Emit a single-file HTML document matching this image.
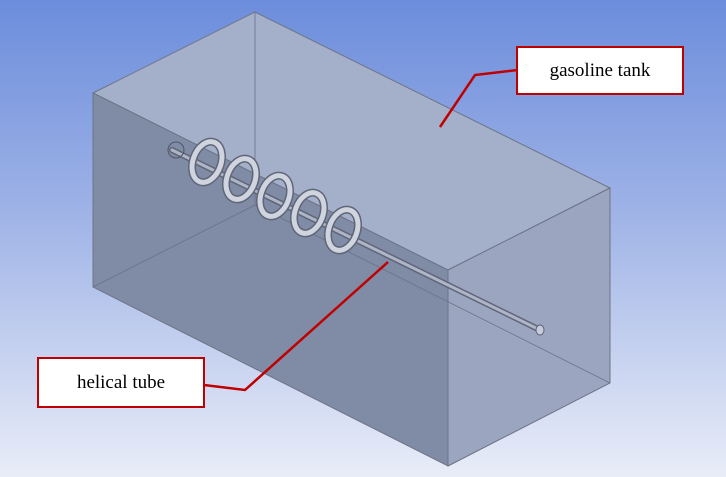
<!DOCTYPE html>
<html><head><style>
body{margin:0;width:726px;height:477px;overflow:hidden;background:linear-gradient(#6c8ddc,#9fb3e6 45%,#e9edf8);font-family:"Liberation Serif",serif}
.lb{position:absolute;background:#fff;border:2px solid #c00000;font-size:19px;display:flex;align-items:center;justify-content:center;box-sizing:border-box}
</style></head><body>
<svg width="726" height="477" style="position:absolute;left:0;top:0">
<polygon points="93,93 255,12 610,188 448,270" fill="#a4afc9" stroke="#6d7486" stroke-width="1"/>
<polygon points="93,93 448,270 448,466 93,287" fill="#808ba5" stroke="#6d7486" stroke-width="1"/>
<polygon points="448,270 610,188 610,383 448,466" fill="#9ba5bf" stroke="#6d7486" stroke-width="1"/>
<g stroke="#6a7284" stroke-width="0.8" fill="none">
<line x1="255" y1="12" x2="255" y2="205"/><line x1="255" y1="205" x2="93" y2="287"/><line x1="255" y1="205" x2="610" y2="383"/>
</g>
<line x1="172" y1="150" x2="540" y2="330" stroke="#5f6677" stroke-width="6" stroke-linecap="round"/>
<line x1="172" y1="150" x2="540" y2="330" stroke="#aeb5c6" stroke-width="3" stroke-linecap="round"/>
<ellipse cx="540" cy="330" rx="4" ry="5" fill="#c5cbd8" stroke="#5f6677"/>
<ellipse cx="176" cy="150" rx="8" ry="8" fill="none" stroke="#4e5566"/>
<g fill="none" stroke-linecap="round">
<g stroke="#5f6677" stroke-width="8">
<ellipse cx="207" cy="162" rx="14" ry="21" transform="rotate(20 207 162)"/>
<ellipse cx="241" cy="179" rx="14" ry="21" transform="rotate(20 241 179)"/>
<ellipse cx="275" cy="196" rx="14" ry="21" transform="rotate(20 275 196)"/>
<ellipse cx="309" cy="213" rx="14" ry="21" transform="rotate(20 309 213)"/>
<ellipse cx="343" cy="230" rx="14" ry="21" transform="rotate(20 343 230)"/>
</g>
<g stroke="#cfd4df" stroke-width="5">
<ellipse cx="207" cy="162" rx="14" ry="21" transform="rotate(20 207 162)"/>
<ellipse cx="241" cy="179" rx="14" ry="21" transform="rotate(20 241 179)"/>
<ellipse cx="275" cy="196" rx="14" ry="21" transform="rotate(20 275 196)"/>
<ellipse cx="309" cy="213" rx="14" ry="21" transform="rotate(20 309 213)"/>
<ellipse cx="343" cy="230" rx="14" ry="21" transform="rotate(20 343 230)"/>
</g>
</g>
<polyline points="518,70 475,75 440,127" fill="none" stroke="#c00000" stroke-width="2.5"/>
<polyline points="204,385 245,390 388,262" fill="none" stroke="#c00000" stroke-width="2.5"/>
</svg>
<div class="lb" style="left:516px;top:46px;width:168px;height:49px">gasoline tank</div>
<div class="lb" style="left:37px;top:357px;width:168px;height:51px">helical tube</div>
</body></html>
